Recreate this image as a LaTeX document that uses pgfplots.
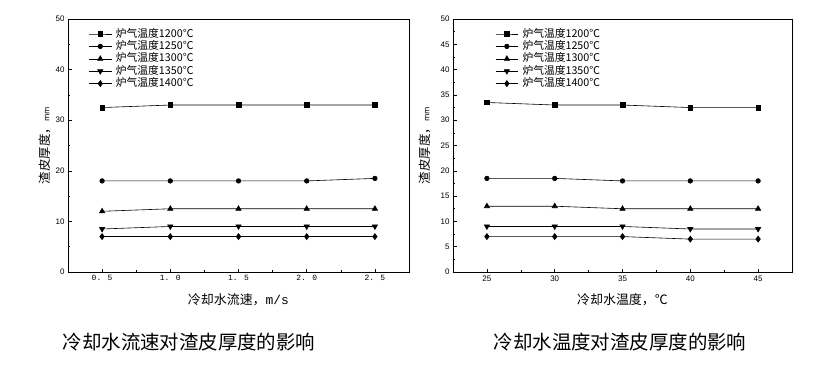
\documentclass[border=0pt]{standalone}
\usepackage{pgfplots}
\pgfplotsset{compat=1.18}
\usepackage{fontspec}
\setmainfont{Noto Sans CJK SC}
\newfontfamily\latinfont{Liberation Sans}
\newfontfamily\monofont{Liberation Mono}

\pgfplotstableread{
x y1 y2 y3 y4 y5
0.5 32.5 18.0 12.0 8.5 7.0
1.0 33.0 18.0 12.5 9.0 7.0
1.5 33.0 18.0 12.5 9.0 7.0
2.0 33.0 18.0 12.5 9.0 7.0
2.5 33.0 18.5 12.5 9.0 7.0
}\flowdata
\pgfplotstableread{
x y1 y2 y3 y4 y5
25 33.5 18.5 13.0 9.0 7.0
30 33.0 18.5 13.0 9.0 7.0
35 33.0 18.0 12.5 9.0 7.0
40 32.5 18.0 12.5 8.5 6.5
45 32.5 18.0 12.5 8.5 6.5
}\tempdata

\pgfplotsset{
  common/.style={
    scale only axis,
    height=253bp,
    ymin=0, ymax=50,
    axis line style={line width=0.9bp},
    tick align=inside,
    xtick pos=bottom, ytick pos=left,
    major tick length=3.5bp, minor tick length=2bp,
    tick style={black, line width=0.6bp},
    minor x tick num=1, minor y tick num=1,
    /pgf/number format/assume math mode=true,
    tick label style={font=\latinfont\fontsize{8}{8}\selectfont},
    legend style={draw=none, fill=none, anchor=north west,
      font=\fontsize{10.8}{10.8}\selectfont, row sep=0pt,
      inner sep=0pt, nodes={inner xsep=4bp, inner ysep=0.7bp, text height=8.6bp, text depth=2.4bp}},
    legend cell align=left,
    legend image code/.code={\draw[mark repeat=2,mark phase=2] plot coordinates {(0cm,0cm) (0.4cm,0cm) (0.8cm,0cm)};},
    xlabel style={font=\fontsize{13}{13}\selectfont, anchor=center},
    ylabel style={font=\fontsize{12.5}{12.5}\selectfont, anchor=center},
  },
  s1/.style={black, line width=0.6bp, mark=square*, mark size=2.3bp, mark options={solid, fill=black}},
  s2/.style={black, line width=0.6bp, mark=*, mark size=2.3bp, mark options={solid, fill=black}},
  s3/.style={black, line width=0.6bp, mark=triangle*, mark size=3bp, mark options={solid, fill=black}},
  s4/.style={black, line width=0.6bp, mark=triangle*, mark size=3bp, mark options={solid, fill=black, rotate=180}},
  s5/.style={black, line width=0.6bp, mark=diamond*, mark size=3bp, mark options={solid, fill=black}},
}

\begin{document}
\begin{tikzpicture}
\begin{axis}[common,
  at={(68bp,-272bp)}, anchor=south west,
  width=341bp,
  xmin=0.25, xmax=2.75,
  xtick={0.5,1.0,1.5,2.0,2.5},
  xticklabels={0. 5,1. 0,1. 5,2. 0,2. 5},
  xticklabel style={font=\monofont\fontsize{8}{8}\selectfont},
  ytick={0,10,20,30,40,50},
  xlabel={冷却水流速，{\monofont m/s}},
  ylabel={渣皮厚度，{\fontsize{8}{8}\selectfont mm}},
  xlabel style={at={(axis description cs:0.5,-0.111)}},
  ylabel style={at={(axis description cs:-0.068,0.5)}},
  legend style={at={(axis description cs:0.06,0.966)}},
]
\addplot[s1] table[x=x,y=y1]{\flowdata};
\addplot[s2] table[x=x,y=y2]{\flowdata};
\addplot[s3] table[x=x,y=y3]{\flowdata};
\addplot[s4] table[x=x,y=y4]{\flowdata};
\addplot[s5] table[x=x,y=y5]{\flowdata};
\legend{炉气温度1200℃,炉气温度1250℃,炉气温度1300℃,炉气温度1350℃,炉气温度1400℃}
\end{axis}

\begin{axis}[common,
  at={(453bp,-272bp)}, anchor=south west,
  width=339bp,
  xmin=22.5, xmax=47.5,
  xtick={25,30,35,40,45},
  ytick={0,5,...,50},
  xlabel={冷却水温度，℃},
  ylabel={渣皮厚度，{\fontsize{8}{8}\selectfont mm}},
  xlabel style={at={(axis description cs:0.5,-0.111)}},
  ylabel style={at={(axis description cs:-0.083,0.5)}},
  legend style={at={(axis description cs:0.124,0.966)}},
]
\addplot[s1] table[x=x,y=y1]{\tempdata};
\addplot[s2] table[x=x,y=y2]{\tempdata};
\addplot[s3] table[x=x,y=y3]{\tempdata};
\addplot[s4] table[x=x,y=y4]{\tempdata};
\addplot[s5] table[x=x,y=y5]{\tempdata};
\legend{炉气温度1200℃,炉气温度1250℃,炉气温度1300℃,炉气温度1350℃,炉气温度1400℃}
\end{axis}

\node[font=\fontsize{19.5}{19.5}\selectfont] at (189bp,-342bp) {冷却水流速对渣皮厚度的影响};
\node[font=\fontsize{19.5}{19.5}\selectfont] at (620bp,-342bp) {冷却水温度对渣皮厚度的影响};

\pgfresetboundingbox
\path (0bp,0bp) rectangle (816bp,-369bp);
\end{tikzpicture}
\end{document}
